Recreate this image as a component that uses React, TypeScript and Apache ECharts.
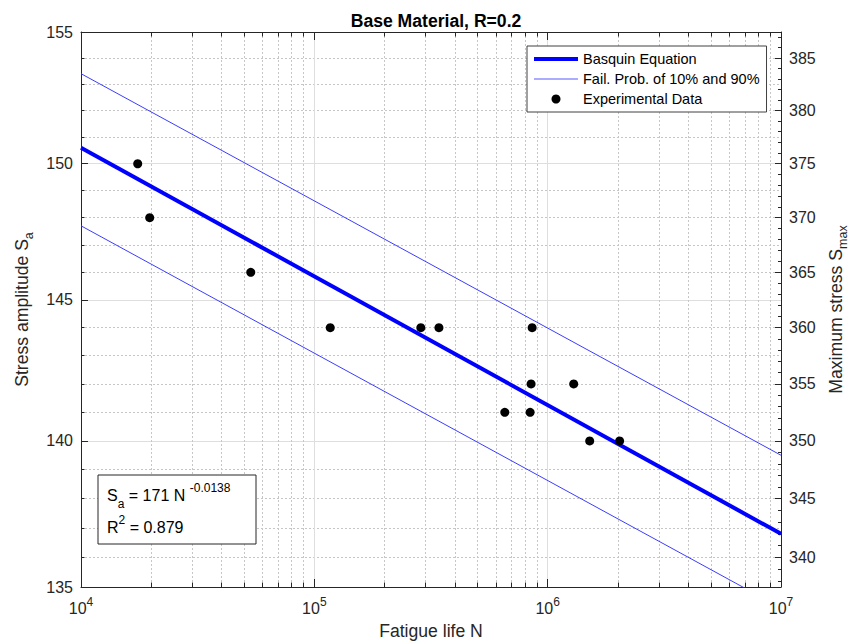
import React, { useEffect, useRef } from "react";
import * as echarts from "echarts";

// ---- data ----
const cyclesN = [17500, 19700, 53400, 117000, 286000, 342000, 655000, 841000, 849000, 858000, 1293000, 1514000, 2034000];
const stressSa = [150, 148, 146, 144, 144, 144, 141, 141, 142, 144, 142, 140, 140];
const fitN = [1e4, 1e7];
const basquinSa = [150.6, 136.8];
const upperSa = [153.4, 139.5];
const lowerSa = [147.7, 134.3];

const xMajor = [1e4, 1e5, 1e6, 1e7];
const xMinor = [
  2e4, 3e4, 4e4, 5e4, 6e4, 7e4, 8e4, 9e4,
  2e5, 3e5, 4e5, 5e5, 6e5, 7e5, 8e5, 9e5,
  2e6, 3e6, 4e6, 5e6, 6e6, 7e6, 8e6, 9e6,
];
const saMajor = [135, 140, 145, 150, 155];
const saMinor = [136, 137, 138, 139, 141, 142, 143, 144, 146, 147, 148, 149, 151, 152, 153, 154];
const smaxMajor = [340, 345, 350, 355, 360, 365, 370, 375, 380, 385];
const smaxMinor = [
  338, 339, 341, 342, 343, 344, 346, 347, 348, 349, 351, 352, 353, 354,
  356, 357, 358, 359, 361, 362, 363, 364, 366, 367, 368, 369, 371, 372, 373, 374,
  376, 377, 378, 379, 381, 382, 383, 384, 386, 387,
];
const saRange = [135, 155];
const smaxRange = [337.5, 387.5];
const nRange = [1e4, 1e7];

const FONT = "Liberation Sans, Arial, Helvetica, sans-serif";
const AX = "#262626";

const majorGrid = { show: true, lineStyle: { color: "#dedede", width: 1, type: "solid" as const } };
const minorGrid = { show: true, lineStyle: { color: "#c6c6c6", width: 1, type: [2, 2] } };

function buildOption() {
  const tickLabel = { fontSize: 16, color: AX, fontFamily: FONT };
  const logX = (extra: any) => ({ type: "log", min: nRange[0], max: nRange[1], ...extra });
  const logSa = (extra: any) => ({ type: "log", min: saRange[0], max: saRange[1], ...extra });
  const logSmax = (extra: any) => ({ type: "log", min: smaxRange[0], max: smaxRange[1], ...extra });

  return {
    animation: false,
    backgroundColor: "#ffffff",
    textStyle: { fontFamily: FONT },
    title: {
      text: "Base Material, R=0.2",
      left: 431,
      top: 7,
      textAlign: "center",
      textStyle: { fontSize: 17.6, fontWeight: "bold", color: "#000", fontFamily: FONT },
    },
    grid: { left: 81, right: 69, top: 32, bottom: 57, containLabel: false, outerBoundsMode: "none" },
    legend: {
      orient: "vertical",
      left: 527,
      top: 46,
      padding: [5, 7, 5, 7],
      itemGap: 4,
      itemWidth: 44,
      itemHeight: 9,
      backgroundColor: "#ffffff",
      borderColor: "#404040",
      borderWidth: 1,
      borderRadius: 0,
      textStyle: { fontSize: 14.5, lineHeight: 16, color: "#000", fontFamily: FONT },
      data: [
        { name: "Basquin Equation", icon: "path://M0,0H44V4H0Z", itemStyle: { color: "#0000ff" } },
        { name: "Fail. Prob. of 10% and 90%", icon: "path://M0,0H44V1H0Z", itemStyle: { color: "#5a5aff" } },
        { name: "Experimental Data", icon: "circle", itemStyle: { color: "#000000" } },
      ],
    },
    xAxis: [
      logX({
        position: "bottom",
        axisLine: { show: true, onZero: false, lineStyle: { color: AX, width: 1 } },
        axisTick: { show: true, inside: true, length: 8, customValues: xMajor, lineStyle: { color: AX } },
        axisLabel: {
          customValues: xMajor,
          margin: 9,
          formatter: (v: number) => `{b|10}{s|${Math.round(Math.log10(v))}}`,
          rich: {
            b: { fontSize: 16, lineHeight: 24, verticalAlign: "middle", color: AX, fontFamily: FONT },
            s: { fontSize: 12, lineHeight: 14, verticalAlign: "top", color: AX, fontFamily: FONT },
          },
        },
        splitLine: majorGrid,
        name: "Fatigue life N",
        nameLocation: "middle",
        nameGap: 35,
        nameTextStyle: { fontSize: 17.6, color: AX, fontFamily: FONT },
      }),
      logX({
        position: "bottom",
        axisLine: { show: false, onZero: false },
        axisTick: { show: true, inside: true, length: 4.5, customValues: xMinor, lineStyle: { color: AX } },
        axisLabel: { show: false },
        splitLine: minorGrid,
      }),
      logX({
        position: "top",
        axisLine: { show: true, onZero: false, lineStyle: { color: AX, width: 1 } },
        axisTick: { show: true, inside: true, length: 8, customValues: xMajor, lineStyle: { color: AX } },
        axisLabel: { show: false },
        splitLine: { show: false },
      }),
      logX({
        position: "top",
        axisLine: { show: false, onZero: false },
        axisTick: { show: true, inside: true, length: 4.5, customValues: xMinor, lineStyle: { color: AX } },
        axisLabel: { show: false },
        splitLine: { show: false },
      }),
    ],
    yAxis: [
      logSa({
        position: "left",
        axisLine: { show: true, onZero: false, lineStyle: { color: AX, width: 1 } },
        axisTick: { show: true, inside: true, length: 7, customValues: saMajor, lineStyle: { color: AX } },
        axisLabel: { ...tickLabel, customValues: saMajor, margin: 8, formatter: (v: number) => String(Math.round(v)) },
        splitLine: majorGrid,
        name: "{m|Stress amplitude S}{s|a}",
        nameLocation: "middle",
        nameGap: 45,
        nameTextStyle: {
          rich: {
            m: { fontSize: 17.6, lineHeight: 26, verticalAlign: "middle", color: AX, fontFamily: FONT },
            s: { fontSize: 12.5, lineHeight: 10, verticalAlign: "bottom", color: AX, fontFamily: FONT },
          },
        },
      }),
      logSa({
        position: "left",
        axisLine: { show: false, onZero: false },
        axisTick: { show: true, inside: true, length: 3.5, customValues: saMinor, lineStyle: { color: AX } },
        axisLabel: { show: false },
        splitLine: minorGrid,
      }),
      logSmax({
        position: "right",
        axisLine: { show: true, onZero: false, lineStyle: { color: AX, width: 1 } },
        axisTick: { show: true, inside: true, length: 6, customValues: smaxMajor, lineStyle: { color: AX } },
        axisLabel: { ...tickLabel, customValues: smaxMajor, margin: 8, formatter: (v: number) => String(Math.round(v)) },
        splitLine: { show: false },
        name: "{m|Maximum stress S}{s|max}",
        nameLocation: "middle",
        nameGap: 42,
        nameTextStyle: {
          rich: {
            m: { fontSize: 17.6, lineHeight: 26, verticalAlign: "middle", color: AX, fontFamily: FONT },
            s: { fontSize: 12.5, lineHeight: 10, verticalAlign: "bottom", color: AX, fontFamily: FONT },
          },
        },
      }),
      logSmax({
        position: "right",
        axisLine: { show: false, onZero: false },
        axisTick: { show: true, inside: true, length: 3, customValues: smaxMinor, lineStyle: { color: AX } },
        axisLabel: { show: false },
        splitLine: { show: false },
      }),
    ],
    series: [
      {
        name: "Fail. Prob. of 10% and 90%",
        type: "line",
        xAxisIndex: 0,
        yAxisIndex: 0,
        symbol: "none",
        clip: true,
        color: "#3c3cff",
        lineStyle: { color: "#3c3cff", width: 1 },
        data: fitN.map((n, i) => [n, upperSa[i]]),
        z: 2,
      },
      {
        name: "Fail. Prob. of 10% and 90%",
        type: "line",
        xAxisIndex: 0,
        yAxisIndex: 0,
        symbol: "none",
        clip: true,
        color: "#3c3cff",
        lineStyle: { color: "#3c3cff", width: 1 },
        data: fitN.map((n, i) => [n, lowerSa[i]]),
        z: 2,
      },
      {
        name: "Basquin Equation",
        type: "line",
        xAxisIndex: 0,
        yAxisIndex: 0,
        symbol: "none",
        clip: true,
        color: "#0000ff",
        lineStyle: { color: "#0000ff", width: 4 },
        data: fitN.map((n, i) => [n, basquinSa[i]]),
        z: 3,
      },
      {
        name: "Experimental Data",
        type: "scatter",
        xAxisIndex: 0,
        yAxisIndex: 0,
        symbol: "circle",
        symbolSize: 9,
        itemStyle: { color: "#000000", opacity: 1 },
        data: cyclesN.map((n, i) => [n, stressSa[i]]),
        z: 4,
      },
    ],
    graphic: [
      {
        type: "rect",
        z: 100,
        shape: { x: 98, y: 475, width: 158, height: 69 },
        style: { fill: "#ffffff", stroke: AX, lineWidth: 1 },
      },
      {
        type: "text",
        z: 101,
        x: 107,
        y: 481.5,
        style: {
          text: "{m|S}{s|a}{m| = 171 N }{p|-0.0138}",
          verticalAlign: "top",
          align: "left",
          rich: {
            m: { fontSize: 16, lineHeight: 28, verticalAlign: "middle", fill: "#000", fontFamily: FONT },
            s: { fontSize: 12, lineHeight: 8, verticalAlign: "bottom", fill: "#000", fontFamily: FONT },
            p: { fontSize: 12, lineHeight: 18, verticalAlign: "top", fill: "#000", fontFamily: FONT },
          },
        },
      },
      {
        type: "text",
        z: 101,
        x: 107,
        y: 513.5,
        style: {
          text: "{m|R}{p|2}{m| = 0.879}",
          verticalAlign: "top",
          align: "left",
          rich: {
            m: { fontSize: 16, lineHeight: 28, verticalAlign: "middle", fill: "#000", fontFamily: FONT },
            p: { fontSize: 12, lineHeight: 12, verticalAlign: "top", fill: "#000", fontFamily: FONT },
          },
        },
      },
    ],
  };
}

export default function App() {
  const ref = useRef<HTMLDivElement | null>(null);
  useEffect(() => {
    if (!ref.current) return;
    const chart = echarts.init(ref.current, undefined, { renderer: "svg" });
    chart.setOption(buildOption() as any);
    return () => chart.dispose();
  }, []);
  return (
    <div
      ref={ref}
      style={{ position: "absolute", left: 0, top: 0, width: 850, height: 644, background: "#fff" }}
    />
  );
}
